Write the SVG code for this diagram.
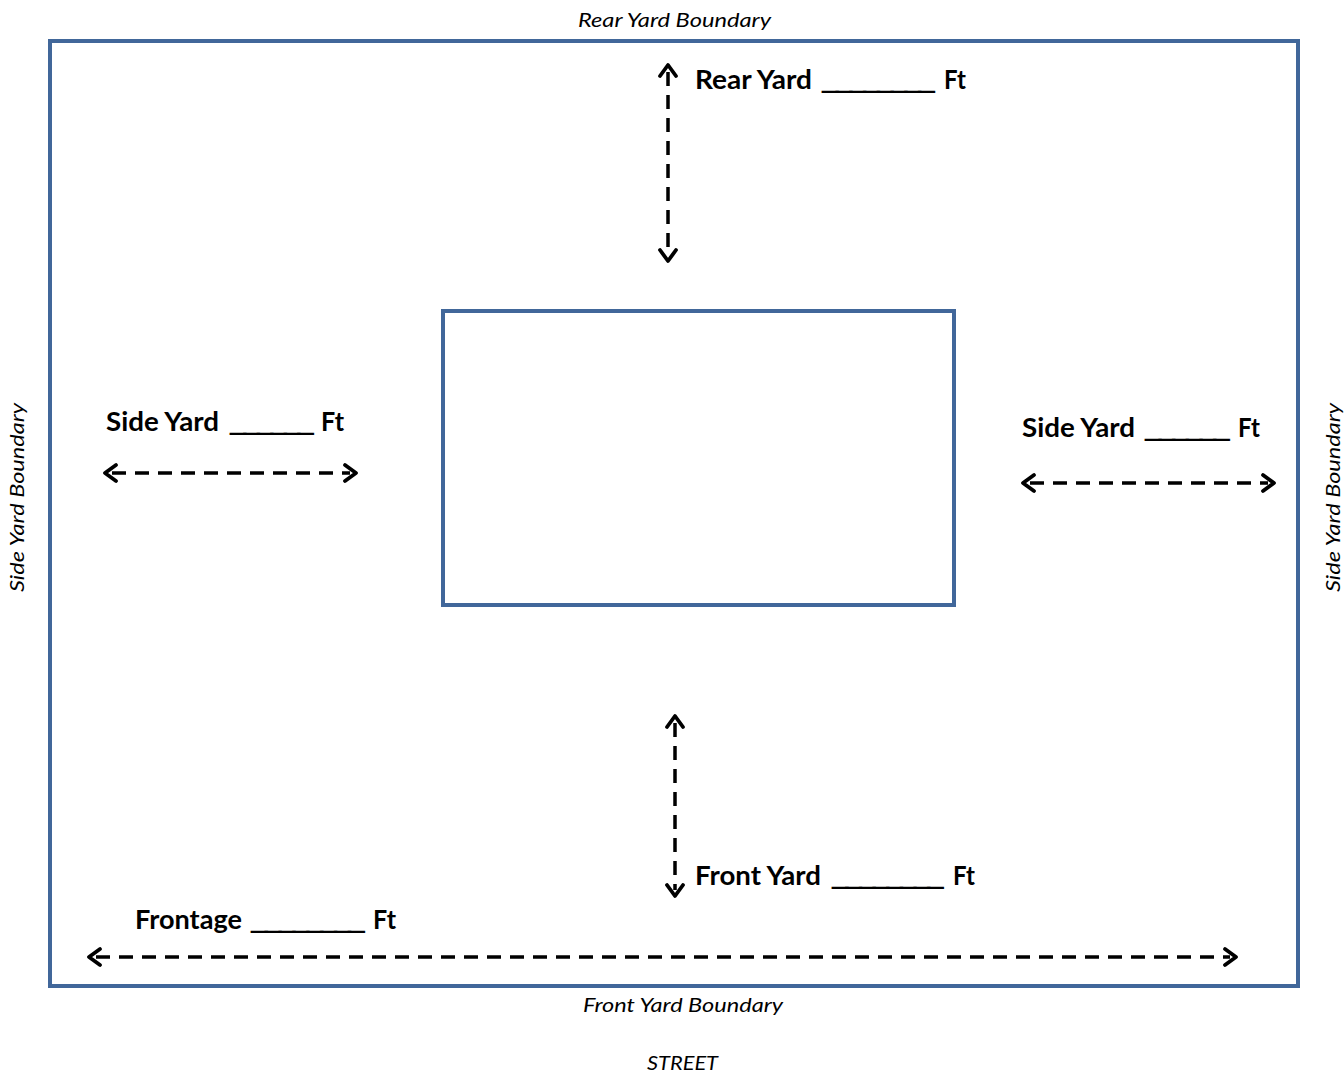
<svg xmlns="http://www.w3.org/2000/svg" width="1344" height="1073" viewBox="0 0 1344 1073">
<style>
.bnd{fill:none;stroke:#41679a;stroke-width:4}
.lbl{font-family:Lato,"Open Sans","Liberation Sans",sans-serif;font-style:italic;font-size:20px;fill:#000}
.dim{font-family:Lato,"Open Sans","Liberation Sans",sans-serif;font-weight:bold;font-size:26px;fill:#000}
.u{letter-spacing:-4px}
.dl{fill:none;stroke:#000;stroke-width:3.5;stroke-dasharray:14 9}
.ah{fill:none;stroke:#000;stroke-width:3.8;stroke-linecap:round;stroke-linejoin:round}
</style>
<rect width="1344" height="1073" fill="#fff"/>
<g id="lot">
<rect class="bnd" x="50" y="41" width="1248" height="945"/>
</g>
<g id="building">
<rect class="bnd" x="443" y="311" width="511" height="294"/>
</g>
<g id="labels">
<text class="lbl" x="578" y="27" textLength="193" lengthAdjust="spacingAndGlyphs">Rear Yard Boundary</text>
<text class="lbl" x="583" y="1012" textLength="200" lengthAdjust="spacingAndGlyphs">Front Yard Boundary</text>
<text class="lbl" x="647" y="1070" textLength="71" lengthAdjust="spacingAndGlyphs">STREET</text>
<text class="lbl" transform="translate(24,592) rotate(-90)" x="0" y="0" textLength="189" lengthAdjust="spacingAndGlyphs">Side Yard Boundary</text>
<text class="lbl" transform="translate(1340,592) rotate(-90)" x="0" y="0" textLength="189" lengthAdjust="spacingAndGlyphs">Side Yard Boundary</text>
<text class="dim" y="89"><tspan x="695" textLength="117" lengthAdjust="spacingAndGlyphs">Rear Yard</tspan> <tspan class="u" x="820" textLength="110" lengthAdjust="spacingAndGlyphs">________</tspan> <tspan x="944" textLength="22" lengthAdjust="spacingAndGlyphs">Ft</tspan></text>
<text class="dim" y="431"><tspan x="106" textLength="113" lengthAdjust="spacingAndGlyphs">Side Yard</tspan> <tspan class="u" x="228" textLength="81" lengthAdjust="spacingAndGlyphs">______</tspan> <tspan x="321" textLength="23" lengthAdjust="spacingAndGlyphs">Ft</tspan></text>
<text class="dim" y="437"><tspan x="1022" textLength="113" lengthAdjust="spacingAndGlyphs">Side Yard</tspan> <tspan class="u" x="1143" textLength="82" lengthAdjust="spacingAndGlyphs">______</tspan> <tspan x="1238" textLength="22" lengthAdjust="spacingAndGlyphs">Ft</tspan></text>
<text class="dim" y="885"><tspan x="695" textLength="126" lengthAdjust="spacingAndGlyphs">Front Yard</tspan> <tspan class="u" x="830" textLength="109" lengthAdjust="spacingAndGlyphs">________</tspan> <tspan x="953" textLength="22" lengthAdjust="spacingAndGlyphs">Ft</tspan></text>
<text class="dim" y="929"><tspan x="135" textLength="107" lengthAdjust="spacingAndGlyphs">Frontage</tspan> <tspan class="u" x="249" textLength="111" lengthAdjust="spacingAndGlyphs">________</tspan> <tspan x="373" textLength="23" lengthAdjust="spacingAndGlyphs">Ft</tspan></text>
</g>
<g id="connectors">
<line class="dl" x1="668" y1="72" x2="668" y2="254"/>
<path class="ah" d="M660 76 L668 65 L676 76 M660 250 L668 261 L676 250"/>
<line class="dl" x1="112" y1="473" x2="350" y2="473"/>
<path class="ah" d="M116 465 L105 473 L116 481 M345 465 L356 473 L345 481"/>
<line class="dl" x1="1030" y1="483" x2="1268" y2="483"/>
<path class="ah" d="M1034 475 L1023 483 L1034 491 M1263 475 L1274 483 L1263 491"/>
<line class="dl" x1="675" y1="723" x2="675" y2="890"/>
<path class="ah" d="M667 727 L675 716 L683 727 M667 885 L675 896 L683 885"/>
<line class="dl" x1="96" y1="957" x2="1230" y2="957"/>
<path class="ah" d="M100 949 L89 957 L100 965 M1225 949 L1236 957 L1225 965"/>
</g>
</svg>
